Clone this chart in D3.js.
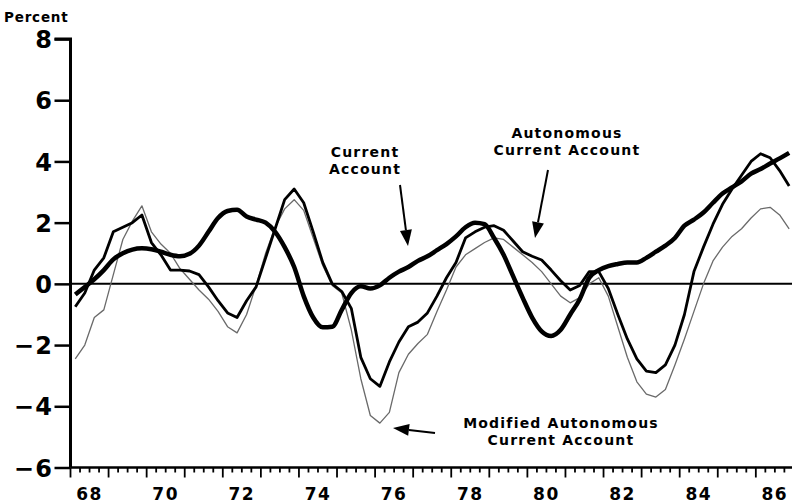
<!DOCTYPE html>
<html><head><meta charset="utf-8">
<script src="https://cdn.jsdelivr.net/npm/d3@7"></script>
<style>
html,body{margin:0;padding:0;background:#fff;}
text{font-family:"DejaVu Sans","Liberation Sans",Arial,sans-serif;font-weight:bold;fill:#000;}
</style></head>
<body>
<svg id="c" width="792" height="504"></svg>
<script>
// Quarterly data, 1968Q1 - 1986Q4 (percent)
const startYear = 1968;
const currentAccount = [
 -0.35,-0.1,0.15,0.45, 0.8,1.0,1.12,1.16, 1.13,1.05,0.95,0.9, 0.98,1.25,1.7,2.15,
 2.38,2.42,2.2,2.1, 2.0,1.7,1.2,0.55, -0.4,-1.1,-1.42,-1.4, -0.85,-0.3,-0.08,-0.15,
 -0.05,0.2,0.4,0.55, 0.75,0.9,1.1,1.3, 1.55,1.85,2.0,1.95, 1.5,0.95,0.25,-0.45,
 -1.1,-1.55,-1.7,-1.5, -1.0,-0.5,0.2,0.45, 0.58,0.65,0.7,0.7, 0.85,1.05,1.25,1.5,
 1.9,2.1,2.33,2.65, 2.95,3.15,3.35,3.6, 3.75,3.93,4.1,4.28];
const autonomousCA = [
 -0.75,-0.3,0.45,0.85, 1.7,1.85,2.0,2.25, 1.35,0.95,0.45,0.45, 0.42,0.3,-0.1,-0.55,
 -0.95,-1.1,-0.55,-0.1, 0.85,1.8,2.75,3.1, 2.65,1.7,0.7,0.0, -0.25,-0.8,-2.4,-3.1,
 -3.35,-2.55,-1.9,-1.4, -1.25,-0.95,-0.4,0.2, 0.7,1.5,1.7,1.85, 1.9,1.75,1.4,1.05,
 0.9,0.78,0.45,0.1, -0.2,-0.05,0.4,0.4, -0.15,-1.0,-1.8,-2.45, -2.85,-2.9,-2.65,-2.0,
 -1.0,0.4,1.2,1.95, 2.6,3.1,3.55,4.0, 4.25,4.12,3.7,3.2];
const modifiedAutonomousCA = [
 -2.45,-2.0,-1.1,-0.85, 0.3,1.45,2.05,2.55, 1.7,1.3,1.0,0.5, 0.15,-0.2,-0.5,-0.9,
 -1.4,-1.6,-1.0,-0.05, 1.0,1.85,2.45,2.75, 2.4,1.5,0.6,-0.05, -0.3,-1.5,-3.1,-4.3,
 -4.55,-4.2,-2.9,-2.3, -1.95,-1.65,-0.9,-0.2, 0.55,0.95,1.15,1.35, 1.5,1.45,1.2,0.95,
 0.7,0.4,0.0,-0.4, -0.62,-0.45,0.0,0.2, -0.4,-1.4,-2.4,-3.2, -3.6,-3.7,-3.45,-2.65,
 -1.8,-0.9,0.0,0.75, 1.2,1.55,1.8,2.15, 2.45,2.5,2.25,1.8];
const yTicks = [-6,-4,-2,0,2,4,6,8];
const xLabels = ["68","70","72","74","76","78","80","82","84","86"];

const svg = d3.select("#c");
const x = d3.scaleLinear().domain([1968, 1986.95]).range([70.5, 792]);
const y = d3.scaleLinear().domain([-6, 8]).range([467.5, 39]);
const tq = i => startYear + i/4 + 0.125;

// zero line
svg.append("line").attr("x1", x(1968)).attr("x2", 792)
  .attr("y1", y(0)).attr("y2", y(0)).attr("stroke", "#000").attr("stroke-width", 2);

// y axis
const yAxis = d3.axisLeft(y).tickValues(yTicks).tickSize(16).tickPadding(4).tickFormat(d3.format("d"));
const gy = svg.append("g").attr("transform", `translate(${x(1968)},0)`).call(yAxis);
gy.select(".domain").attr("stroke-width", 3).attr("d", `M-16,${y(8)}H0V${y(-6)}`);
gy.selectAll(".tick line").attr("stroke-width", 2.5);
gy.selectAll(".tick text").style("font-size", "24px").style("letter-spacing", "1.5px").attr("x", -17).attr("dy", "0.36em");

// x axis: quarterly minor ticks, yearly longer ticks, labels at mid-year
const minor = d3.range(0, 76).map(i => startYear + i/4).filter(v => v % 1 !== 0);
const major = d3.range(1968, 1987);
const gx = svg.append("g").attr("transform", `translate(0,${y(-6)})`);
gx.append("line").attr("x1", x(1968)).attr("x2", 792).attr("stroke", "#000").attr("stroke-width", 2.5);
gx.selectAll("line.mn").data(minor).join("line").attr("class","mn")
  .attr("x1", d => x(d)).attr("x2", d => x(d)).attr("y1", 0).attr("y2", 5)
  .attr("stroke", "#000").attr("stroke-width", 1.8);
gx.selectAll("line.mj").data(major).join("line").attr("class","mj")
  .attr("x1", d => x(d)).attr("x2", d => x(d)).attr("y1", 0).attr("y2", 10)
  .attr("stroke", "#000").attr("stroke-width", 1.8);
gx.selectAll("text.xl").data(xLabels).join("text").attr("class","xl")
  .attr("x", d => x(1900 + (+d) + 0.5)).attr("y", 32)
  .attr("text-anchor", "middle").style("font-size", "17px").style("letter-spacing", "1.5px")
  .text(d => d);

// Percent title
svg.append("text").attr("x", 4).attr("y", 22).style("font-size", "13.5px").style("letter-spacing", "0.8px").text("Percent");

// series
const line = d3.line().x((d, i) => x(tq(i))).y(d => y(d));
svg.append("path").datum(modifiedAutonomousCA).attr("d", line)
  .attr("fill", "none").attr("stroke", "#6a6a6a").attr("stroke-width", 1.3).attr("stroke-linejoin", "round");
svg.append("path").datum(autonomousCA).attr("d", line)
  .attr("fill", "none").attr("stroke", "#000").attr("stroke-width", 2.8).attr("stroke-linejoin", "round");
svg.append("path").datum(currentAccount).attr("d", d3.line().x((d, i) => x(tq(i))).y(d => y(d)).curve(d3.curveMonotoneX))
  .attr("fill", "none").attr("stroke", "#000").attr("stroke-width", 4.5).attr("stroke-linejoin", "round");

// annotations
function label(lines, cx, by) {
  lines.forEach((t, k) => svg.append("text").attr("x", cx).attr("y", by + k * 16.5)
    .attr("text-anchor", "middle").style("font-size", "14px").style("letter-spacing", "1.2px").text(t));
}
label(["Current", "Account"], 365, 157);
label(["Autonomous", "Current Account"], 567, 138);
label(["Modified Autonomous", "Current Account"], 561, 428);

function arrow(x1, y1, x2, y2) {
  const a = Math.atan2(y2 - y1, x2 - x1), L = 16, W = 6;
  const bx = x2 - L * Math.cos(a), by = y2 - L * Math.sin(a);
  svg.append("line").attr("x1", x1).attr("y1", y1).attr("x2", bx).attr("y2", by)
    .attr("stroke", "#000").attr("stroke-width", 2);
  const px = -Math.sin(a) * W, py = Math.cos(a) * W;
  svg.append("path").attr("d", `M${x2},${y2}L${bx + px},${by + py}L${bx - px},${by - py}Z`).attr("fill", "#000");
}
arrow(400, 185, 408, 246);
arrow(548, 170, 535, 238);
arrow(435, 433, 393, 428);
</script>
</body></html>
